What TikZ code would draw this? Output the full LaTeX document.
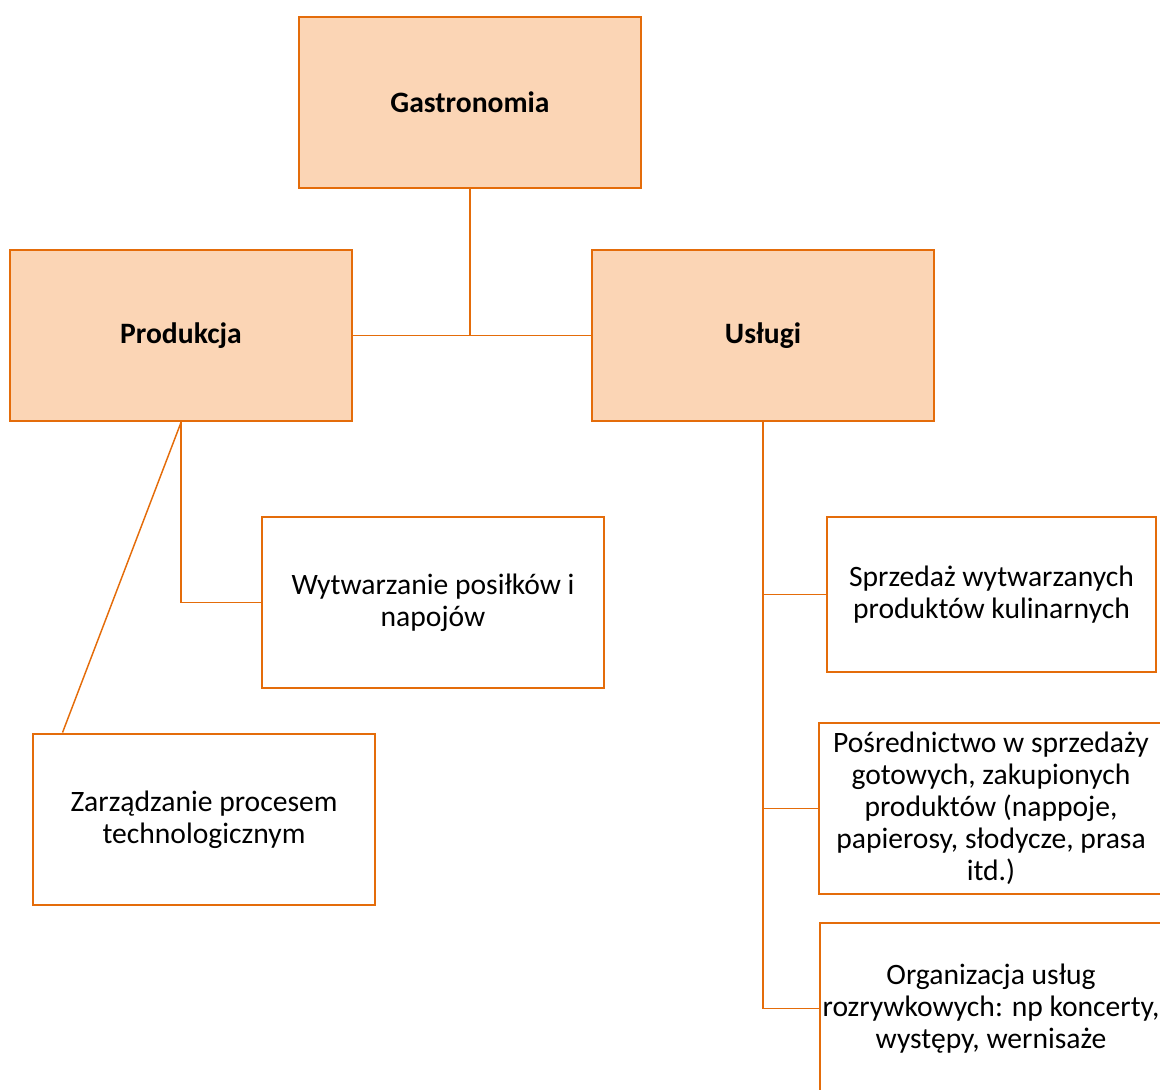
\documentclass[tikz,border=0pt]{standalone}
\usepackage{fontspec}
\setmainfont{Carlito}
\usetikzlibrary{calc}
\definecolor{accent}{HTML}{E46C0A}
\definecolor{peach}{HTML}{FBD5B5}
\tikzset{
  box/.style={draw=accent, line width=2.2pt, rectangle, inner sep=0pt,
    align=center, text=black, font=\fontsize{22.2}{24}\selectfont},
  headbox/.style={box, fill=peach, font=\fontsize{22.2}{24}\selectfont\bfseries},
  link/.style={draw=accent, line width=1.1pt}
}
\begin{document}
\begin{tikzpicture}[x=0.75pt, y=-0.75pt]
\useasboundingbox (0,0) rectangle (1160,1089);
\clip (0,0) rectangle (1160,1089);
% top level
\node[headbox, minimum width=256.5pt, minimum height=128.25pt] (gast) at (470,102.5) {Gastronomia};
% second level
\node[headbox, minimum width=256.5pt, minimum height=128.25pt] (prod) at (181,335.5) {Produkcja};
\node[headbox, minimum width=256.5pt, minimum height=128.25pt] (usl) at (763,335.5) {Usługi};
% production branch
\node[box, minimum width=256.5pt, minimum height=128.25pt] (wyt) at (433,602.5) {Wytwarzanie posiłków i\\napojów};
\node[box, minimum width=256.5pt, minimum height=128.25pt] (zarz) at (204,819.5) {Zarządzanie procesem\\technologicznym};
% services branch
\node[box, minimum width=246.75pt, minimum height=116.25pt] (sprz) at (991.5,594.5) {Sprzedaż wytwarzanych\\produktów kulinarnych};
\node[box, minimum width=258pt, minimum height=128.25pt] (posr) at (991,808.5) {Pośrednictwo w sprzedaży\\gotowych, zakupionych\\produktów (nappoje,\\papierosy, słodycze, prasa\\itd.)};
\node[box, minimum width=256.5pt, minimum height=128.25pt] (org) at (991,1008.5) {Organizacja usług\\rozrywkowych: np koncerty,\\występy, wernisaże};
% connectors
\coordinate (zarztop) at ($(zarz.north west)+(31,0)$);
\draw[link] (gast.south) -- (gast.south |- prod.east);
\draw[link] (prod.east) -- (usl.west);
\draw[link] (prod.south) |- (wyt.west);
\draw[link] (prod.south) -- (zarztop);
\draw[link] (usl.south) |- (sprz.west);
\draw[link] (usl.south) |- (posr.west);
\draw[link] (usl.south) |- (org.west);
\end{tikzpicture}
\end{document}
